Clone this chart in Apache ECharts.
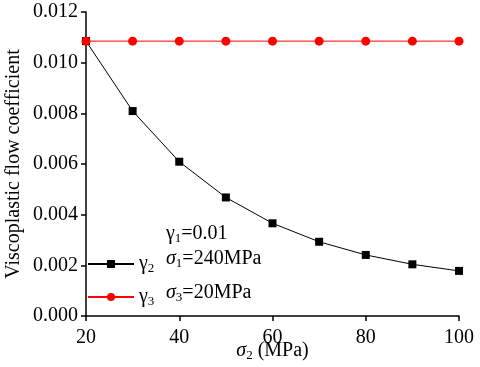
<!DOCTYPE html>
<html><head><meta charset="utf-8">
<script src="https://cdn.jsdelivr.net/npm/echarts@6/dist/echarts.min.js"></script>
<style>html,body{margin:0;padding:0;background:#fff}#c{width:480px;height:367px}</style>
</head><body><div id="c"></div>
<script>
const sigma2 = [20, 30, 40, 50, 60, 70, 80, 90, 100];
const gamma2 = [0.01085, 0.00809, 0.00609, 0.00468, 0.00366, 0.00293, 0.00241, 0.00204, 0.00178];
const gamma3 = [0.01085, 0.01085, 0.01085, 0.01085, 0.01085, 0.01085, 0.01085, 0.01085, 0.01085];
const FONT = 'Liberation Serif';
const rich = {
  g: {fontFamily: FONT, fontSize: 20, color: '#000'},
  s: {fontFamily: FONT, fontSize: 20, fontStyle: 'italic', color: '#000'},
  sub: {fontFamily: FONT, fontSize: 13, color: '#000', verticalAlign: 'bottom', padding: [9, 0, 0, 0]}
};
const chart = echarts.init(document.getElementById('c'));
chart.setOption({
  animation: false,
  grid: {left: 86, right: 21, top: 12, bottom: 51, outerBoundsMode: 'none', containLabel: false},
  xAxis: {
    type: 'value', min: 20, max: 100, interval: 20,
    name: '{s|σ}{sub|2}{g| (MPa)}', nameLocation: 'middle', nameGap: 24, nameMoveOverlap: false,
    nameTextStyle: {rich: rich},
    axisLine: {lineStyle: {color: '#000', width: 1.5}},
    axisTick: {inside: false, length: 5, lineStyle: {color: '#000', width: 1.5}},
    axisLabel: {fontFamily: FONT, fontSize: 20, color: '#000', margin: 12},
    splitLine: {show: false}
  },
  yAxis: {
    type: 'value', min: 0, max: 0.012, interval: 0.002,
    name: 'Viscoplastic flow coefficient', nameLocation: 'middle', nameGap: 62, nameMoveOverlap: false,
    nameTextStyle: {fontFamily: FONT, fontSize: 20, color: '#000'},
    axisLine: {show: true, lineStyle: {color: '#000', width: 1.5}},
    axisTick: {show: true, inside: false, length: 5, lineStyle: {color: '#000', width: 1.5}},
    axisLabel: {fontFamily: FONT, fontSize: 20, color: '#000', margin: 8, formatter: v => v.toFixed(3)},
    splitLine: {show: false}
  },
  legend: {
    orient: 'vertical', left: 82, top: 249, itemGap: 12, itemWidth: 46, itemHeight: 10,
    data: ['γ2', 'γ3'],
    formatter: n => '{g|γ}{sub|' + n.slice(1) + '}',
    textStyle: {rich: rich}
  },
  series: [
    {name: 'γ2', type: 'line', data: sigma2.map((x, i) => [x, gamma2[i]]), symbol: 'rect', symbolSize: 8,
     lineStyle: {color: '#000', width: 1}, itemStyle: {color: '#000'}, z: 2},
    {name: 'γ3', type: 'line', data: sigma2.map((x, i) => [x, gamma3[i]]), symbol: 'circle', symbolSize: 9,
     lineStyle: {color: '#ff0000', width: 1}, itemStyle: {color: '#ff0000'}, z: 3}
  ],
  graphic: [
    {type: 'text', left: 166, top: 224, style: {text: '{g|γ}{sub|1}{g|=0.01}', rich: rich}},
    {type: 'text', left: 166, top: 249, style: {text: '{s|σ}{sub|1}{g|=240MPa}', rich: rich}},
    {type: 'text', left: 166, top: 283, style: {text: '{s|σ}{sub|3}{g|=20MPa}', rich: rich}}
  ]
});
</script></body></html>
